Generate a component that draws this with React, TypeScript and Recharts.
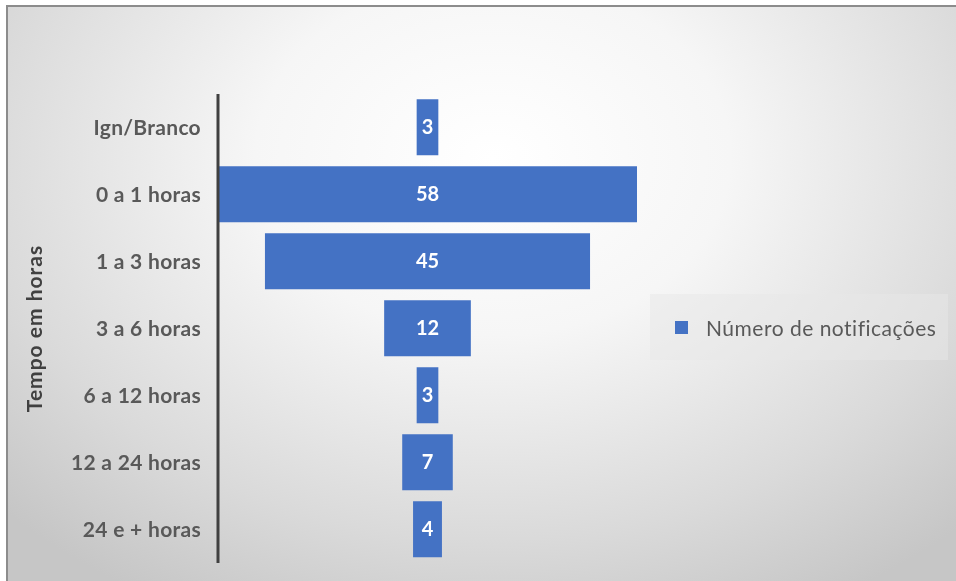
import React from 'react';
import { BarChart, Bar, XAxis, YAxis, LabelList, Legend } from 'recharts';

const categories = ['Ign/Branco', '0 a 1 horas', '1 a 3 horas', '3 a 6 horas', '6 a 12 horas', '12 a 24 horas', '24 e + horas'];
const notificacoes = [3, 58, 45, 12, 3, 7, 4];

const MAX = Math.max(...notificacoes);

// funnel: an invisible spacer pushes each bar to the centre
const data = categories.map((cat, i) => ({
  cat,
  spacer: (MAX - notificacoes[i]) / 2,
  value: notificacoes[i],
}));

const FONT = 'Lato, "Open Sans", sans-serif';
const BLUE = '#4472C4';

const LegendBox = () => (
  <div
    style={{
      display: 'flex',
      alignItems: 'center',
      height: '100%',
      paddingLeft: 25,
      fontFamily: FONT,
      fontSize: 21,
      letterSpacing: 0.5,
      color: '#595959',
      boxSizing: 'border-box',
    }}
  >
    <span style={{ display: 'inline-block', width: 13, height: 13, background: BLUE, marginRight: 18 }} />
    Número de notificações
  </div>
);

export default function App() {
  return (
    <div style={{ position: 'fixed', left: 0, top: 0, width: 956, height: 581, overflow: 'hidden' }}>
      <div
        style={{
          position: 'absolute',
          left: 6,
          top: 5,
          width: 970,
          height: 600,
          borderTop: '2px solid #8c8c8c',
          borderLeft: '2px solid #8c8c8c',
          background: 'radial-gradient(ellipse 70% 85% at 50% 25%, #ffffff 0%, #f6f6f6 35%, #dadada 75%, #c6c6c6 100%)',
        }}
      />
      <div style={{ position: 'absolute', left: 0, top: 0 }}>
        <BarChart
          width={956}
          height={581}
          data={data}
          layout="vertical"
          barCategoryGap="8%"
          margin={{ top: 94, right: 319, bottom: 18, left: 0 }}
        >
          <XAxis type="number" domain={[0, MAX]} hide />
          <YAxis
            type="category"
            dataKey="cat"
            width={218}
            axisLine={{ stroke: '#404040', strokeWidth: 3 }}
            tickLine={false}
            tickMargin={11}
            tick={{ fill: '#595959', fontSize: 21, fontFamily: FONT, fontWeight: 700, letterSpacing: 0.3 }}
            label={{
              value: 'Tempo em horas',
              angle: -90,
              position: 'insideLeft',
              offset: 35,
              style: { fill: '#404040', fontSize: 21, fontFamily: FONT, fontWeight: 700, letterSpacing: 1, textAnchor: 'middle' },
            }}
          />
          <Legend
            layout="vertical"
            align="center"
            verticalAlign="middle"
            wrapperStyle={{ left: 650, top: 294, width: 298, height: 66, background: 'rgba(232,232,232,0.5)' }}
            content={() => <LegendBox />}
          />
          <Bar dataKey="spacer" stackId="f" fill="transparent" legendType="none" isAnimationActive={false} />
          <Bar dataKey="value" name="Número de notificações" stackId="f" fill={BLUE} isAnimationActive={false}>
            <LabelList dataKey="value" position="center" fill="#ffffff" fontSize={20} fontWeight={700} fontFamily={FONT} />
          </Bar>
        </BarChart>
      </div>
    </div>
  );
}
